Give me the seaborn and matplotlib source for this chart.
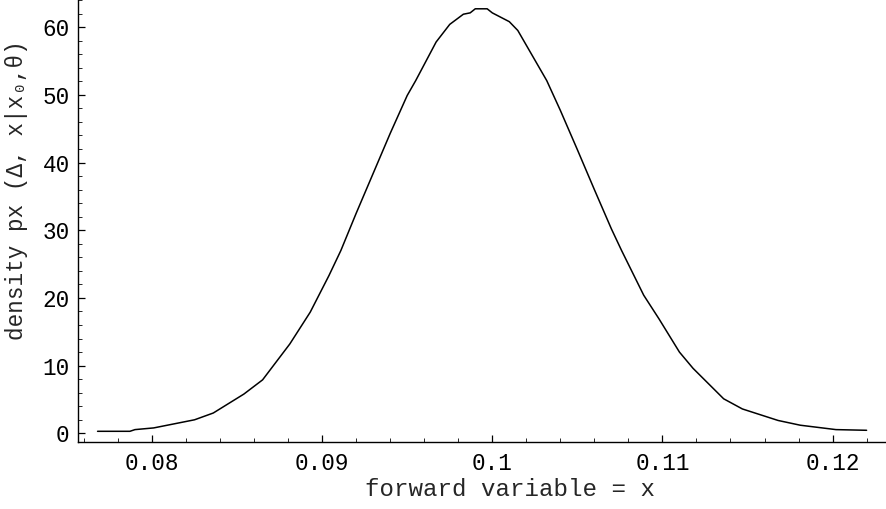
import pandas as pd
import matplotlib.pyplot as plt
import seaborn as sns
from matplotlib.ticker import MultipleLocator

# values
forward_x = [0.0768, 0.0787, 0.0790, 0.0801, 0.0811, 0.0825, 0.0836, 0.0854,
             0.0865, 0.0881, 0.0893, 0.0904, 0.0911, 0.0920, 0.0930, 0.0940,
             0.0950, 0.0955, 0.0967, 0.0975, 0.0983, 0.0987, 0.0990, 0.0997,
             0.1000, 0.1010, 0.1015, 0.1032, 0.1040, 0.1050, 0.1060, 0.1070,
             0.1076, 0.1089, 0.1098, 0.1110, 0.1118, 0.1136, 0.1147, 0.1168,
             0.1181, 0.1202, 0.1220]
density = [0.3, 0.3, 0.55, 0.8, 1.3, 2.0, 3.0, 5.8,
           7.9, 13.2, 17.9, 23.3, 27.0, 32.5, 38.4, 44.3,
           49.9, 52.1, 57.8, 60.4, 61.9, 62.1, 62.7, 62.7,
           62.1, 60.8, 59.5, 52.1, 47.7, 41.9, 36.0, 30.2,
           27.0, 20.4, 16.9, 12.0, 9.6, 5.1, 3.6, 1.9,
           1.2, 0.55, 0.45]

df = pd.DataFrame({'x': forward_x, 'density': density})

sns.set_style("ticks")
plt.rcParams['font.family'] = ['Liberation Mono', 'DejaVu Sans Mono', 'DejaVu Sans']

fig = plt.figure(figsize=(8.87, 5.09), dpi=100)
ax = fig.add_axes([78 / 887, 67 / 509, 1 - 78 / 887, 1 - 67 / 509])

sns.lineplot(data=df, x='x', y='density', color='black', linewidth=1.1,
             sort=False, ax=ax)

ax.set_xlim(0.07565, 0.1232)
ax.set_ylim(-1.28, 64.0)

ax.set_xticks([0.08, 0.09, 0.1, 0.11, 0.12])
ax.set_xticklabels(['0.08', '0.09', '0.1', '0.11', '0.12'])
ax.set_yticks([0, 10, 20, 30, 40, 50, 60])
ax.xaxis.set_minor_locator(MultipleLocator(0.002))
ax.yaxis.set_minor_locator(MultipleLocator(2))

ax.tick_params(which='major', direction='in', length=5, width=0.9,
               labelsize=16.3, colors='black')
ax.tick_params(which='minor', direction='in', length=3, width=0.7)
ax.tick_params(axis='x', which='major', pad=7)
ax.tick_params(axis='y', which='major', pad=6)

for side in ['top', 'right']:
    ax.spines[side].set_visible(False)
for side in ['left', 'bottom']:
    ax.spines[side].set_color('black')
    ax.spines[side].set_linewidth(1.0)

ax.set_xlabel('forward variable = x', fontsize=17.4)
ax.set_ylabel('density px (Δ, x|x₀,θ)', fontsize=16.3)
ax.xaxis.set_label_coords(0.534, -0.081)
ax.yaxis.set_label_coords(-0.062, 0.57)

fig.savefig('out.png', dpi=100, facecolor='white')
